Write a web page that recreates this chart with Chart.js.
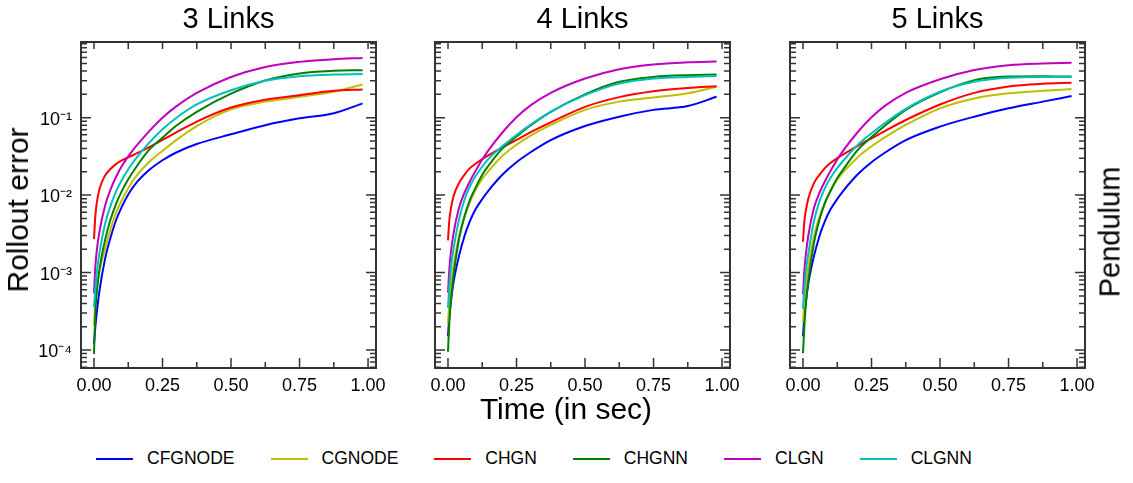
<!DOCTYPE html>
<html>
<head>
<meta charset="utf-8">
<script src="https://cdn.jsdelivr.net/npm/chart.js@4.4.0/dist/chart.umd.min.js"></script>
<style>
  body { margin: 0; background: #fff; width: 1133px; height: 483px; position: relative; overflow: hidden;
         font-family: "Liberation Sans", Arial, sans-serif; color: #000; }
  canvas { position: absolute; }
  .txt { position: absolute; white-space: nowrap; line-height: 1; }
  .title { font-size: 29px; top: 4px; transform: translateX(-50%); }
  .rot { transform: translate(-50%, -50%) rotate(-90deg); }
  #legend { position: absolute; left: 96px; top: 450px; display: flex; align-items: center;
            font-size: 17.5px; line-height: 17.5px; }
  #legend .sw { width: 37px; height: 2px; margin-right: 14px; }
  #legend .item { display: flex; align-items: center; margin-right: 36px; }
</style>
</head>
<body>

<canvas id="c0" width="385" height="386"></canvas>
<canvas id="c1" width="385" height="386"></canvas>
<canvas id="c2" width="385" height="386"></canvas>

<div class="txt title" id="t0"></div>
<div class="txt title" id="t1"></div>
<div class="txt title" id="t2"></div>
<div class="txt rot" style="left:17.6px;top:210px;font-size:30px;">Rollout error</div>
<div class="txt" style="left:566px;top:394px;font-size:30px;transform:translateX(-50%);">Time (in sec)</div>
<div class="txt rot" style="left:1110px;top:232px;font-size:29px;">Pendulum</div>
<div id="legend"></div>

<script>
// time samples (s)
const times = [0, 0.005, 0.01, 0.02, 0.04, 0.06, 0.08, 0.1, 0.125, 0.15, 0.2, 0.25, 0.3, 0.375, 0.5, 0.625, 0.75, 0.875, 0.98];

// 3 links
const cfgnode3 = [1.2e-4, 2.0e-4, 3.0e-4, 5.8e-4, 1.48e-3, 2.8e-3, 4.7e-3, 6.9e-3, 0.0102, 0.0138, 0.0209, 0.0282, 0.0355, 0.0457, 0.061, 0.080, 0.098, 0.114, 0.153];
const cgnode3  = [2.1e-4, 4.0e-4, 6.0e-4, 1.05e-3, 2.0e-3, 3.6e-3, 5.9e-3, 8.4e-3, 0.0123, 0.0168, 0.0266, 0.0372, 0.0513, 0.078, 0.128, 0.161, 0.186, 0.216, 0.268];
const chgn3    = [2.7e-3, 5.4e-3, 7.9e-3, 0.012, 0.0178, 0.0217, 0.0251, 0.0278, 0.0307, 0.0339, 0.0413, 0.0516, 0.0645, 0.089, 0.135, 0.17, 0.195, 0.222, 0.231];
const chgnn3   = [8.9e-5, 3.1e-4, 5.5e-4, 1.1e-3, 2.6e-3, 4.8e-3, 7.6e-3, 0.011, 0.016, 0.0219, 0.038, 0.055, 0.0785, 0.119, 0.204, 0.302, 0.372, 0.402, 0.41];
const clgn3    = [5.4e-4, 1.2e-3, 1.9e-3, 3.4e-3, 7.2e-3, 0.0117, 0.017, 0.0232, 0.0316, 0.0412, 0.066, 0.10, 0.14, 0.209, 0.335, 0.452, 0.525, 0.569, 0.59];
const clgnn3   = [3.6e-4, 6.2e-4, 9.8e-4, 1.8e-3, 4.2e-3, 7.2e-3, 0.011, 0.0153, 0.0216, 0.0288, 0.0468, 0.0708, 0.099, 0.148, 0.226, 0.299, 0.343, 0.36, 0.365];

// 4 links
const cfgnode4 = [1.5e-4, 2.75e-4, 4.1e-4, 7.4e-4, 1.63e-3, 2.95e-3, 4.6e-3, 6.5e-3, 8.9e-3, 0.0117, 0.0186, 0.0266, 0.0355, 0.0513, 0.078, 0.103, 0.126, 0.141, 0.186];
const cgnode4  = [2.2e-4, 4.1e-4, 6.8e-4, 1.2e-3, 2.95e-3, 5.2e-3, 8.1e-3, 0.0116, 0.0162, 0.0209, 0.0324, 0.0447, 0.0582, 0.0805, 0.126, 0.161, 0.182, 0.206, 0.251];
const chgn4    = [2.6e-3, 4.8e-3, 6.5e-3, 9.6e-3, 0.0143, 0.0183, 0.0223, 0.0254, 0.0291, 0.0331, 0.0417, 0.0516, 0.0646, 0.0871, 0.138, 0.184, 0.219, 0.241, 0.254];
const chgnn4   = [9.5e-5, 2.3e-4, 4.1e-4, 9e-4, 2.67e-3, 5.3e-3, 8.7e-3, 0.0123, 0.0183, 0.0246, 0.0404, 0.057, 0.0787, 0.119, 0.20, 0.29, 0.336, 0.354, 0.36];
const clgn4    = [5.5e-4, 1.1e-3, 1.74e-3, 3.16e-3, 6.8e-3, 0.0107, 0.0151, 0.0204, 0.0288, 0.0389, 0.0653, 0.101, 0.143, 0.209, 0.32, 0.422, 0.486, 0.518, 0.531];
const clgnn4   = [3.5e-4, 6.8e-4, 1.1e-3, 2.0e-3, 4.8e-3, 8.7e-3, 0.013, 0.0174, 0.0234, 0.030, 0.0433, 0.0598, 0.0807, 0.119, 0.195, 0.275, 0.32, 0.336, 0.344];

// 5 links
const cfgnode5 = [1.5e-4, 2.75e-4, 4.1e-4, 7.4e-4, 1.63e-3, 2.95e-3, 4.6e-3, 6.5e-3, 8.9e-3, 0.0117, 0.0186, 0.0266, 0.0355, 0.0513, 0.0766, 0.103, 0.132, 0.161, 0.19];
const cgnode5  = [2.3e-4, 4.1e-4, 6.8e-4, 1.2e-3, 2.95e-3, 5.2e-3, 8.1e-3, 0.0115, 0.0158, 0.0204, 0.0309, 0.0427, 0.0562, 0.0805, 0.132, 0.177, 0.206, 0.222, 0.234];
const chgn5    = [2.5e-3, 4.6e-3, 6.2e-3, 9.2e-3, 0.0143, 0.0183, 0.0223, 0.0259, 0.030, 0.0341, 0.0433, 0.0542, 0.0676, 0.0933, 0.148, 0.209, 0.253, 0.274, 0.282];
const chgnn5   = [9.1e-5, 2.0e-4, 3.7e-4, 8.2e-4, 2.4e-3, 4.8e-3, 7.9e-3, 0.0112, 0.0166, 0.0223, 0.0384, 0.0562, 0.0794, 0.126, 0.212, 0.305, 0.339, 0.343, 0.339];
const clgn5    = [5.2e-4, 1.05e-3, 1.66e-3, 3.1e-3, 6.8e-3, 0.0107, 0.0151, 0.0204, 0.0288, 0.0389, 0.0653, 0.101, 0.143, 0.209, 0.313, 0.412, 0.475, 0.50, 0.51];
const clgnn5   = [3.4e-4, 6.5e-4, 1.0e-3, 1.8e-3, 4.6e-3, 8.3e-3, 0.0123, 0.0166, 0.0223, 0.0286, 0.0446, 0.063, 0.0861, 0.130, 0.216, 0.29, 0.327, 0.336, 0.336];

const models = ['CFGNODE', 'CGNODE', 'CHGN', 'CHGNN', 'CLGN', 'CLGNN'];
const panelTitles = ['3 Links', '4 Links', '5 Links'];
const xTickValues = [0, 0.25, 0.5, 0.75, 1.0];
const xTickLabels = ['0.00', '0.25', '0.50', '0.75', '1.00'];
const yTickValues = [1e-4, 1e-3, 1e-2, 1e-1];
const yTickLabels = ['10\u207B\u2074', '10\u207B\u00B3', '10\u207B\u00B2', '10\u207B\u00B9'];

const panelSeries = [
  [cfgnode3, cgnode3, chgn3, chgnn3, clgn3, clgnn3],
  [cfgnode4, cgnode4, chgn4, chgnn4, clgn4, clgnn4],
  [cfgnode5, cgnode5, chgn5, chgnn5, clgn5, clgnn5]
];

const colors = ['#0000ff', '#bfbf00', '#ff0000', '#008000', '#bf00bf', '#00bfbf'];
const frameLeft = [81, 435, 790];
const FONT = '"Liberation Sans", Arial, sans-serif';

// inward ticks on all four sides + frame
const frameTicks = {
  id: 'frameTicks',
  afterDraw(chart) {
    const { ctx, chartArea: a } = chart;
    const x = chart.scales.x, y = chart.scales.y;
    ctx.save();
    ctx.strokeStyle = '#333';
    ctx.lineWidth = 1.5;
    ctx.beginPath();
    for (let i = 0; i <= 8; i++) {
      const px = x.getPixelForValue(i * 0.125);
      const major = i % 2 === 0;
      ctx.moveTo(px, a.bottom); ctx.lineTo(px, a.bottom - (major ? 10 : 6));
      ctx.moveTo(px, a.top); ctx.lineTo(px, a.top + 7);
    }
    for (let e = -5; e <= 0; e++) {
      for (let m = 1; m <= 9; m++) {
        const v = m * Math.pow(10, e);
        if (v < y.min || v > y.max) continue;
        const py = y.getPixelForValue(v);
        const len = m === 1 ? 10 : 6;
        ctx.moveTo(a.left, py); ctx.lineTo(a.left + len, py);
        ctx.moveTo(a.right, py); ctx.lineTo(a.right - len, py);
      }
    }
    ctx.stroke();
    ctx.lineWidth = 2;
    ctx.strokeRect(a.left, a.top, a.right - a.left, a.bottom - a.top);
    ctx.restore();
  }
};

panelSeries.forEach((series, p) => {
  const canvas = document.getElementById('c' + p);
  canvas.style.left = (frameLeft[p] - 60) + 'px';
  canvas.style.top = '22px';

  const title = document.getElementById('t' + p);
  title.textContent = panelTitles[p];
  title.style.left = (frameLeft[p] + 147.5) + 'px';

  new Chart(canvas, {
    type: 'line',
    data: {
      datasets: series.map((vals, i) => ({
        label: models[i],
        data: times.map((t, k) => ({ x: t, y: vals[k] })),
        borderColor: colors[i],
        borderWidth: 2,
        pointRadius: 0,
        fill: false,
        cubicInterpolationMode: 'monotone',
        order: models.length - i
      }))
    },
    options: {
      responsive: false,
      animation: false,
      layout: { padding: { left: 0, top: 20, right: 30, bottom: 0 } },
      plugins: { legend: { display: false }, tooltip: { enabled: false } },
      scales: {
        x: {
          type: 'linear',
          min: -0.0474,
          max: 1.029,
          grid: { display: false, drawTicks: false },
          border: { display: false },
          afterBuildTicks: s => { s.ticks = xTickValues.map(v => ({ value: v })); },
          afterFit: s => { s.height = 40; s.paddingLeft = 0; s.paddingRight = 0; },
          ticks: {
            autoSkip: false, maxRotation: 0, padding: 7, color: '#000',
            font: { family: FONT, size: 18 },
            callback: (v, i) => xTickLabels[i]
          }
        },
        y: {
          type: 'logarithmic',
          min: 5.86e-5,
          max: 0.948,
          grid: { display: false, drawTicks: false },
          border: { display: false },
          afterBuildTicks: s => { s.ticks = yTickValues.map(v => ({ value: v })); },
          afterFit: s => { s.width = 60; s.paddingTop = 0; s.paddingBottom = 0; },
          ticks: {
            display: p === 0,
            autoSkip: false, padding: 9, color: '#000', labelOffset: 2,
            font: { family: FONT, size: 18 },
            callback: (v, i) => yTickLabels[i]
          }
        }
      }
    },
    plugins: [frameTicks]
  });
});

// legend
const legend = document.getElementById('legend');
models.forEach((m, i) => {
  const item = document.createElement('div');
  item.className = 'item';
  const sw = document.createElement('div');
  sw.className = 'sw';
  sw.style.background = colors[i];
  const label = document.createElement('span');
  label.textContent = m;
  item.appendChild(sw);
  item.appendChild(label);
  legend.appendChild(item);
});
</script>
</body>
</html>
